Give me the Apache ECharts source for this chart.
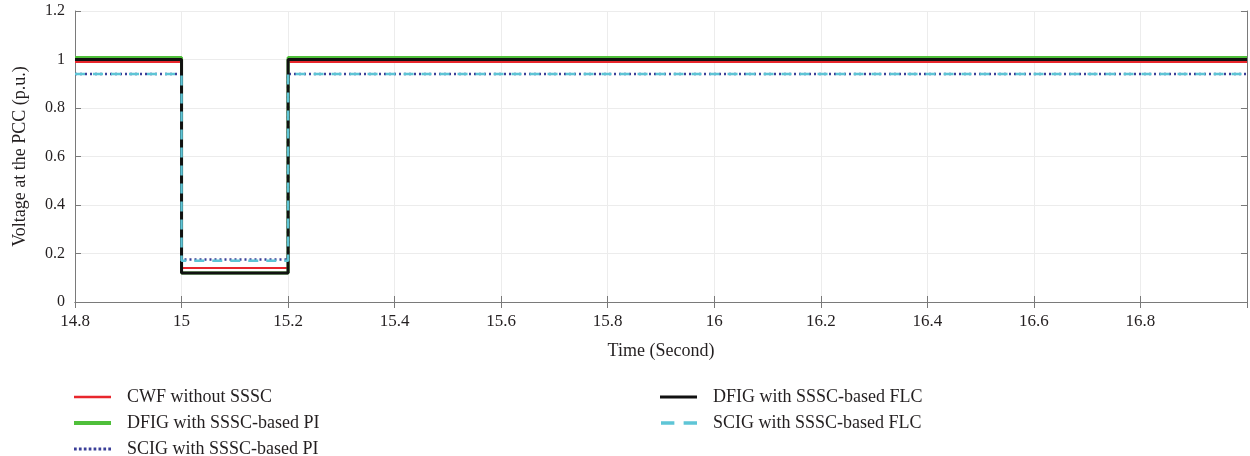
<!DOCTYPE html>
<html>
<head>
<meta charset="utf-8">
<script src="https://cdn.jsdelivr.net/npm/echarts@6/dist/echarts.min.js"></script>
<style>
html,body{margin:0;padding:0;background:#fff;}
#chart{width:1250px;height:456px;}
</style>
</head>
<body>
<div id="chart"></div>
<script>
// Switching instants (s): pre-fault, fault start, fault clear, end of run
const timePoints = [14.8, 15.0, 15.2, 17.0];

// PCC voltage (p.u.) held from each switching instant to the next
const cwfWithoutSSSC = [0.99, 0.14, 0.99, 0.99];
const dfigSSSCPI     = [1.008, 0.12, 1.008, 1.008];
const scigSSSCPI     = [0.94, 0.175, 0.94, 0.94];
const dfigSSSCFLC    = [1.0, 0.12, 1.0, 1.0];
const scigSSSCFLC    = [0.94, 0.17, 0.94, 0.94];

const seriesNames = [
  'CWF without SSSC',
  'DFIG with SSSC-based PI',
  'SCIG with SSSC-based PI',
  'DFIG with SSSC-based FLC',
  'SCIG with SSSC-based FLC'
];

const xTicks = [14.8, 15, 15.2, 15.4, 15.6, 15.8, 16, 16.2, 16.4, 16.6, 16.8];
const yTicks = [0, 0.2, 0.4, 0.6, 0.8, 1, 1.2];

const FONT = '"Liberation Serif", "DejaVu Serif", serif';
const TXT = '#231f20';
const AXIS = '#7a7a7a';

function pairs(vals) {
  return timePoints.map((t, i) => [t, vals[i]]);
}

function stepSeries(name, vals, color, width, type, z) {
  return {
    name: name,
    type: 'line',
    step: 'end',
    data: pairs(vals),
    symbol: 'none',
    z: z,
    lineStyle: { color: color, width: width, type: type },
    itemStyle: { color: color },
    emphasis: { disabled: true },
    animation: false
  };
}

// Legend swatches drawn as filled paths so dashes and dots stay visible
const solidIcon = 'path://M0,0h36v3h-36z';
let dotted = '';
for (let i = 0; i < 8; i++) dotted += 'M' + (i * 4.7) + ',0h2.6v3h-2.6z';
const dottedIcon = 'path://' + dotted;
const dashedIcon = 'path://M0,0h13v3h-13zM22,0h13v3h-13z';

function legendItem(name, icon, left, top, w, h) {
  return {
    data: [{ name: name, icon: icon }],
    left: left,
    top: top,
    itemWidth: w,
    itemHeight: h,
    symbolKeepAspect: false,
    itemStyle: { borderWidth: 0 },
    textStyle: { fontFamily: FONT, fontSize: 18, color: TXT, padding: [0, 0, 0, 11] },
    selectedMode: false
  };
}

const chart = echarts.init(document.getElementById('chart'));

const baseX = { type: 'value', min: 14.8, max: 17, interval: 0.2 };
const baseY = { type: 'value', min: 0, max: 1.2, interval: 0.2 };

const tickStyle = { show: true, inside: true, length: 6, lineStyle: { color: AXIS } };
const lineStyleAxis = { show: true, lineStyle: { color: AXIS, width: 1 } };

chart.setOption({
  backgroundColor: '#ffffff',
  animation: false,
  grid: { left: 75, right: 3, top: 11, height: 291 },
  legend: [
    legendItem(seriesNames[0], solidIcon, 69, 383, 37, 2.5),
    legendItem(seriesNames[1], solidIcon, 69, 409, 37, 4),
    legendItem(seriesNames[2], dottedIcon, 69, 435, 37, 3),
    legendItem(seriesNames[3], solidIcon, 655, 383, 37, 3),
    legendItem(seriesNames[4], dashedIcon, 656, 409, 36, 3.5)
  ],
  xAxis: [
    Object.assign({}, baseX, {
      position: 'bottom',
      name: 'Time (Second)',
      nameLocation: 'middle',
      nameGap: 40,
      nameTextStyle: { fontFamily: FONT, fontSize: 18, color: TXT },
      axisLine: lineStyleAxis,
      axisTick: tickStyle,
      axisLabel: {
        fontFamily: FONT, fontSize: 17, color: TXT, margin: 11,
        formatter: v => (xTicks.some(t => Math.abs(t - v) < 1e-6) ? String(+v.toFixed(1)) : '')
      },
      splitLine: { show: true, lineStyle: { color: '#ececec', width: 1 } }
    }),
    Object.assign({}, baseX, {
      position: 'top',
      axisLine: lineStyleAxis,
      axisTick: tickStyle,
      axisLabel: { show: false },
      splitLine: { show: false }
    })
  ],
  yAxis: [
    Object.assign({}, baseY, {
      position: 'left',
      name: 'Voltage at the PCC (p.u.)',
      nameLocation: 'middle',
      nameGap: 46,
      nameTextStyle: { fontFamily: FONT, fontSize: 18, color: TXT },
      axisLine: lineStyleAxis,
      axisTick: tickStyle,
      axisLabel: {
        fontFamily: FONT, fontSize: 16, color: TXT, margin: 10,
        formatter: v => (yTicks.some(t => Math.abs(t - v) < 1e-6) ? String(+v.toFixed(1)) : '')
      },
      splitLine: { show: true, lineStyle: { color: '#ececec', width: 1 } }
    }),
    Object.assign({}, baseY, {
      position: 'right',
      axisLine: lineStyleAxis,
      axisTick: tickStyle,
      axisLabel: { show: false },
      splitLine: { show: false }
    })
  ],
  series: [
    stepSeries(seriesNames[0], cwfWithoutSSSC, '#e8262c', 2, 'solid', 2),
    stepSeries(seriesNames[1], dfigSSSCPI, '#4fbf3a', 3, 'solid', 3),
    stepSeries(seriesNames[2], scigSSSCPI, '#3b3f98', 2.5, [2, 3], 4),
    stepSeries(seriesNames[3], dfigSSSCFLC, '#111111', 3, 'solid', 5),
    stepSeries(seriesNames[4], scigSSSCFLC, '#5ec5d6', 2.5, [10, 8], 6)
  ]
});
</script>
</body>
</html>
